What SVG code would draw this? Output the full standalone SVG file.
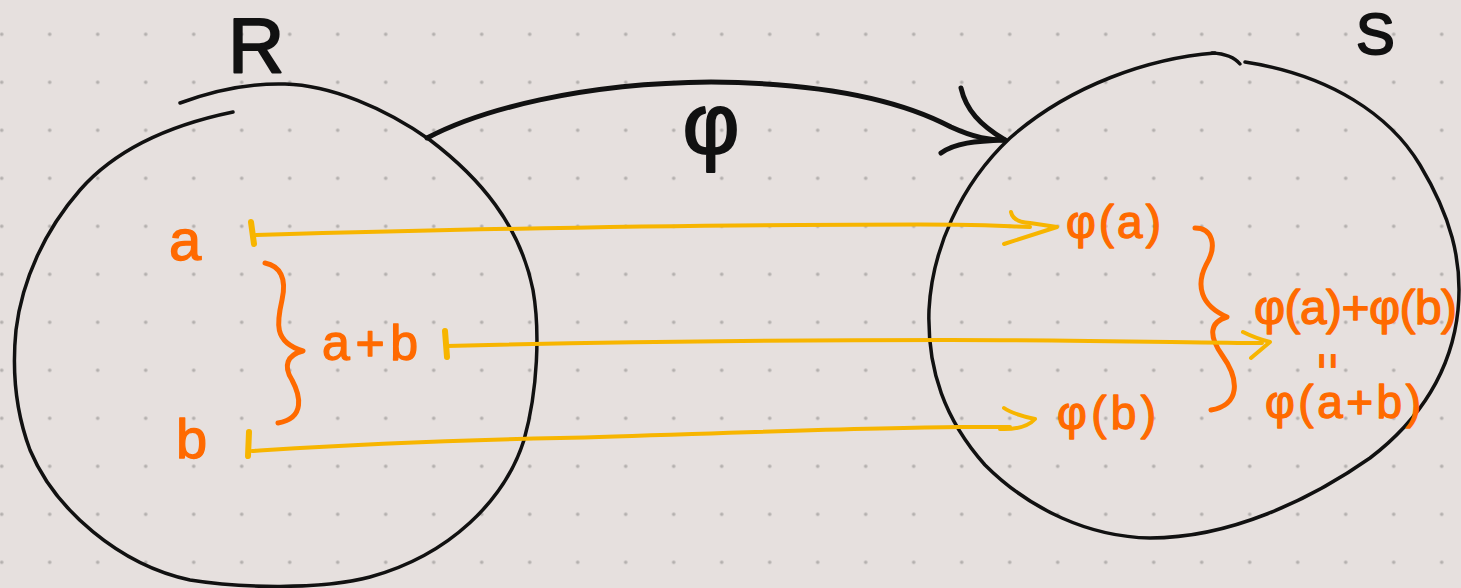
<svg xmlns="http://www.w3.org/2000/svg" width="1461" height="588" viewBox="0 0 1461 588">
<style>
.ink{fill:none;stroke:#111;stroke-linecap:round;stroke-linejoin:round}
.blob{stroke-width:3.5}
.arr{stroke-width:5}
.map{fill:none;stroke:#f7b500;stroke-width:4;stroke-linecap:round;stroke-linejoin:round}
.tick{fill:none;stroke:#f7b500;stroke-width:6;stroke-linecap:round}
.brace{fill:none;stroke:#ff6a00;stroke-width:5;stroke-linecap:round;stroke-linejoin:round}
.lbl{font-family:"Liberation Sans","DejaVu Sans",sans-serif;fill:#ff6a00;stroke:#ff6a00;stroke-width:1.3;stroke-linejoin:round}
.blk{font-family:"Liberation Sans","DejaVu Sans",sans-serif;fill:#111;stroke:#111;stroke-width:2;stroke-linejoin:round}
</style>
<defs>
<pattern id="dots" patternUnits="userSpaceOnUse" x="-22.3" y="10.3" width="48" height="48">
<circle cx="24" cy="24" r="1.8" fill="#b3afad"/>
</pattern>
</defs>
<rect width="1461" height="588" fill="#e6e0de"/>
<rect width="1461" height="588" fill="url(#dots)"/>

<g id="node-R">
<path class="ink blob" d="M 180 103 C 215 90, 250 83, 285 84 C 330 85, 385 108, 430 140 C 480 178, 520 225, 533 290 C 540 330, 538 390, 524 440 C 505 500, 450 555, 370 577 C 320 590, 240 588, 190 580 C 120 565, 55 510, 30 450 C 15 410, 12 370, 16 330 C 22 280, 45 230, 80 190 C 115 150, 170 125, 233 112"/>
<text class="blk" x="228" y="72" font-size="78">R</text>
<text class="lbl" x="169" y="260" font-size="58">a</text>
<text class="lbl" x="176" y="458" font-size="56">b</text>
<text class="lbl" x="322" y="360" font-size="50" textLength="96" lengthAdjust="spacing">a+b</text>
<path class="brace" d="M 265 263 C 280 266, 287 278, 282 300 C 277 322, 273 342, 303 351 C 287 355, 283 366, 292 380 C 300 395, 306 418, 278 423"/>
</g>

<g id="node-S">
<path class="ink blob" d="M 1215 53 C 1150 58, 1070 85, 1010 138 C 960 185, 932 250, 929 310 C 927 370, 945 420, 985 465 C 1030 510, 1090 537, 1150 538 C 1230 538, 1310 500, 1370 458 C 1420 420, 1452 370, 1458 310 C 1463 260, 1450 215, 1420 165 C 1390 115, 1330 75, 1245 62"/>
<path class="ink blob" d="M 1212 53 Q 1232 54, 1240 64"/>
<text class="blk" x="1356" y="54" font-size="58">S</text>
<text class="lbl" x="1066" y="238" font-size="46" textLength="95" lengthAdjust="spacing">φ(a)</text>
<text class="lbl" x="1057" y="429" font-size="46" textLength="99" lengthAdjust="spacing">φ(b)</text>
<path class="brace" d="M 1195 228 C 1212 228, 1218 245, 1206 265 C 1196 285, 1200 305, 1227 317 C 1210 322, 1208 335, 1222 355 C 1240 380, 1240 405, 1211 410"/>
<text class="lbl" x="1254" y="324" font-size="48" textLength="203" lengthAdjust="spacing">φ(a)+φ(b)</text>
<text class="lbl" transform="translate(1327,361) rotate(90) scale(0.65,1.1)" x="0" y="14" font-size="42" text-anchor="middle">=</text>
<text class="lbl" x="1265" y="418" font-size="46" textLength="156" lengthAdjust="spacing">φ(a+b)</text>
</g>

<g id="connectors">
<g id="phi-arrow">
<path class="ink arr" d="M 427 138 C 480 110, 580 83, 711 82 C 820 83, 900 100, 951 127 C 975 138, 990 140, 1005 140"/>
<path class="ink arr" d="M 961 88 C 966 110, 980 125, 1005 140 M 941 153 C 955 143, 975 141, 1005 140"/>
<text class="blk" x="711" y="154" font-size="88" text-anchor="middle">φ</text>
</g>
<g id="map-a">
<path class="tick" d="M 251 222 L 254 244"/>
<path class="map" d="M 256 235 C 400 231, 600 226, 800 225 S 980 225, 1030 227"/>
<path class="map" d="M 1011 212 Q 1013 222, 1030 223 L 1057 227 L 1004 244"/>
</g>
<g id="map-ab">
<path class="tick" d="M 445 331 L 447 357"/>
<path class="map" d="M 447 346 C 600 342, 800 340, 950 340 S 1200 343, 1262 343"/>
<path class="map" d="M 1243 332 Q 1255 338, 1270 342 L 1251 358"/>
</g>
<g id="map-b">
<path class="tick" d="M 249 432 L 248 456"/>
<path class="map" d="M 252 451 C 300 448, 380 442, 560 438 C 700 434, 850 428, 960 427 L 1010 427"/>
<path class="map" d="M 1004 408 Q 1012 414, 1035 419 Q 1025 430, 1000 429"/>
</g>
</g>
</svg>
